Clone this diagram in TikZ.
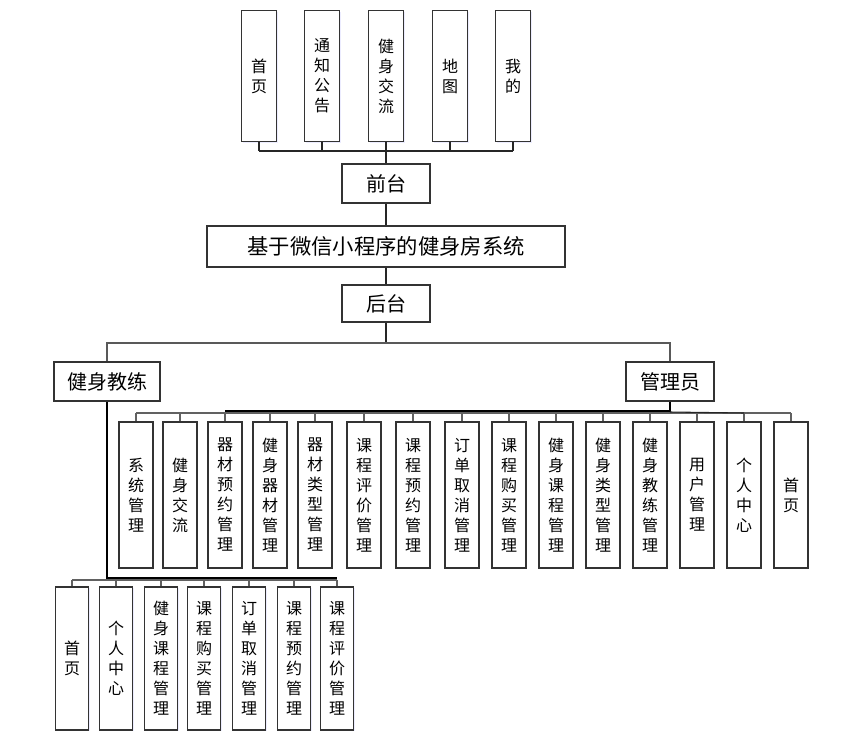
\documentclass[tikz,border=0pt]{standalone}
\usepackage{fontspec}
\setmainfont{Noto Sans CJK SC}
\usetikzlibrary{positioning,shadows}

\begin{document}
\begin{tikzpicture}[x=0.75pt,y=-0.75pt,
                    box/.style={draw=black!80, line width=0.9pt, fill=white, inner sep=0pt, align=center,
                                drop shadow={shadow xshift=1pt,shadow yshift=-1pt,fill=blue!12,opacity=0.6}},
                    topbox/.style={box, minimum width=26.25pt, minimum height=98.25pt, font=\fontsize{12}{15}\selectfont},
                    adminbox/.style={box, minimum width=25.5pt, minimum height=109.5pt, font=\fontsize{12}{15}\selectfont},
                    coachbox/.style={box, minimum width=24.75pt, minimum height=107.25pt, font=\fontsize{12}{15}\selectfont},
                    titlebox/.style={box, minimum height=29.25pt, font=\fontsize{15}{18}\selectfont},
                    link/.style={draw=black!85, line width=0.8pt},
                    stub/.style={draw=black!62, line width=0.8pt},
                    heavy/.style={draw=black, line width=1.2pt},
                   ]

\useasboundingbox (0,0) rectangle (861,739);

% front end
\foreach \n/\x/\t in {1/259/首\\页, 2/322/通\\知\\公\\告, 3/386/健\\身\\交\\流, 4/450/地\\图, 5/513/我\\的}
  \node[topbox] (top\n) at (\x,76) {\t};

\node[titlebox, minimum width=66pt] (qian) at (386,183.5) {前台};
\node[titlebox, minimum width=268.5pt, minimum height=30.75pt, font=\fontsize{16}{18}\selectfont] (sys) at (386,246.5) {基于微信小程序的健身房系统};
\node[titlebox, minimum width=66pt, minimum height=27.75pt] (hou) at (386,303.5) {后台};

\coordinate (qbus) at (386,151);
\foreach \n in {1,...,5}
  \draw[link] (top\n.south) -- (top\n.south |- qbus);
\draw[link] (top1.south |- qbus) -- (top5.south |- qbus);
\draw[link] (qbus) -- (qian.north);
\draw[link] (qian.south) -- (sys.north);
\draw[link] (sys.south) -- (hou.north);

% back end
\node[titlebox, minimum width=79.5pt] (jiao) at (107,381.5) {健身教练};
\node[titlebox, minimum width=66pt] (guan) at (670,381.5) {管理员};

\coordinate (hbus) at (386,343);
\draw[link] (hou.south) -- (hbus);
\draw[link, draw=black!65] (jiao.north) |- (hbus) -| (guan.north);

% admin modules
\foreach \n/\x/\t in {1/136/系\\统\\管\\理, 2/180/健\\身\\交\\流, 3/225/器\\材\\预\\约\\管\\理,
                      4/270/健\\身\\器\\材\\管\\理, 5/315/器\\材\\类\\型\\管\\理, 6/364/课\\程\\评\\价\\管\\理,
                      7/413/课\\程\\预\\约\\管\\理, 8/462/订\\单\\取\\消\\管\\理, 9/509/课\\程\\购\\买\\管\\理,
                      10/556/健\\身\\课\\程\\管\\理, 11/603/健\\身\\类\\型\\管\\理, 12/650/健\\身\\教\\练\\管\\理,
                      13/697/用\\户\\管\\理, 14/744/个\\人\\中\\心, 15/791/首\\页}
  \node[adminbox] (adm\n) at (\x,495) {\t};

\coordinate (abus) at (0,413);
\foreach \n in {1,...,15}
  \draw[stub] (adm\n.north) -- (adm\n.north |- abus);
\draw[stub] (adm1.north |- abus) -- (adm15.north |- abus);
\coordinate (ablk) at (225,411);
\draw[heavy] (guan.south) |- (ablk);
\draw[link] (guan.south |- abus) ++(0,-1) -- (adm14.north |- abus) ++(0,-1);

% coach modules
\foreach \n/\x/\t in {1/72/首\\页, 2/116/个\\人\\中\\心, 3/161/健\\身\\课\\程\\管\\理, 4/204/课\\程\\购\\买\\管\\理,
                      5/249/订\\单\\取\\消\\管\\理, 6/294/课\\程\\预\\约\\管\\理, 7/337/课\\程\\评\\价\\管\\理}
  \node[coachbox] (coa\n) at (\x,658.5) {\t};

\coordinate (cbus) at (0,580);
\foreach \n in {1,...,7}
  \draw[stub] (coa\n.north) -- (coa\n.north |- cbus);
\draw[stub] (coa1.north |- cbus) -- (coa7.north |- cbus);
\coordinate (cblk) at (337,578);
\draw[heavy] (jiao.south) |- (cblk);

\end{tikzpicture}
\end{document}
